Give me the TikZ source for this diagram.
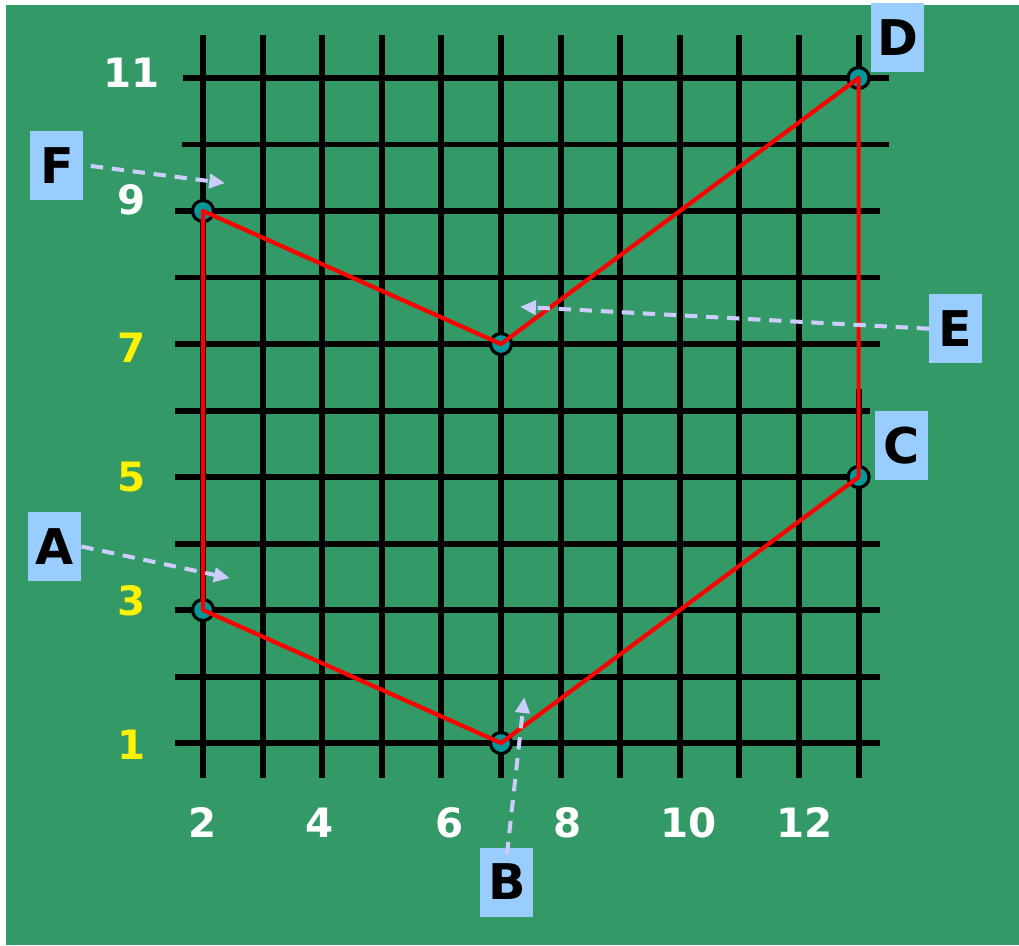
\documentclass[tikz,border=0pt]{standalone}
\usepackage{fontspec}
\setmainfont{DejaVu Sans}
\usetikzlibrary{arrows.meta}
\definecolor{board}{HTML}{339966}
\definecolor{tagblue}{HTML}{99CCFF}
\definecolor{lavender}{HTML}{CCCCFF}
\definecolor{dotfill}{HTML}{009999}

\begin{document}
\begin{tikzpicture}[x=1.192cm, y=1.33cm, every node/.style={font=\fontsize{23}{23}\selectfont\bfseries},
        tag/.style={fill=tagblue, minimum width=1.06cm, minimum height=1.38cm, inner sep=0pt, font=\fontsize{28}{28}\selectfont\bfseries},
        callout/.style={draw=lavender, line width=2.3pt, dash pattern=on 7pt off 5pt, -{Triangle[length=9pt,width=8pt]}},
        vertex/.style={circle, draw=black, fill=dotfill, line width=1.8pt, minimum size=0.42cm, inner sep=0pt},
        gridline/.style={line width=3.4pt}]
                \useasboundingbox (-1.406,-2.038) rectangle (15.691,12.173);
                \fill[white] (-1.406,-2.038) rectangle (15.691,12.173);
                \fill[board] (-1.305,-2.038) rectangle (15.691,12.098);

                \foreach \x in {2,...,12} { \draw[gridline] (\x,0.474) -- (\x,11.647); }
                \draw[gridline] (13,11.647) -- (13,11);
                \draw[gridline] (13,6.32) -- (13,0.474);
                \foreach \y/\a/\b in {11/1.67/13.51, 10/1.65/13.51, 9/1.53/13.36, 8/1.53/13.36, 7/1.53/13.36, 6/1.53/13.19, 5/1.53/13, 4/1.53/13.36, 3/1.53/13.36, 2/1.53/13.36, 1/1.53/13.36} { \draw[gridline] (\a,\y) -- (\b,\y); }

                \foreach \y/\h/\c in {11/11.08/white, 9/9.17/white, 7/6.95/yellow, 5/5.0/yellow, 3/3.14/yellow, 1/0.97/yellow} { \node[text=\c] (y\y) at (0.8,\h) {\y}; }
                \foreach \x/\p in {2/2.0, 4/3.96, 6/6.14, 8/8.11, 10/10.14, 12/12.1} { \node[text=white] (x\x) at (\p,-0.2) {\x}; }

                \node[vertex] (a) at (2,3) {};
                \node[vertex] (b) at (7,1) {};
                \node[vertex] (c) at (13,5) {};
                \node[vertex] (d) at (13,11) {};
                \node[vertex] (e) at (7,7) {};
                \node[vertex] (f) at (2,9) {};
                \draw[red, line width=2.4pt, line join=round] (a.center) -- (b.center) -- (c.center) -- (d.center) -- (e.center) -- (f.center) -- cycle;

                \node[tag] (A) at (-0.49,3.955) {A};
                \node[tag] (B) at (7.10,-1.09) {B};
                \node[tag] (C) at (13.72,5.47) {C};
                \node[tag] (D) at (13.66,11.61) {D};
                \node[tag] (E) at (14.63,7.23) {E};
                \node[tag] (F) at (-0.45,9.677) {F};

                \coordinate (Atip) at (2.45,3.48);
                \coordinate (Btip) at (7.39,1.69);
                \coordinate (Etip) at (7.32,7.56);
                \coordinate (Ftip) at (2.37,9.42);
                \draw[callout] (A.east) -- (Atip);
                \draw[callout] ([yshift=-4pt]B.north) -- (Btip);
                \draw[callout] (E.west) -- (Etip);
                \draw[callout] ([xshift=4pt]F.east) -- (Ftip);
            \end{tikzpicture}
\end{document}
